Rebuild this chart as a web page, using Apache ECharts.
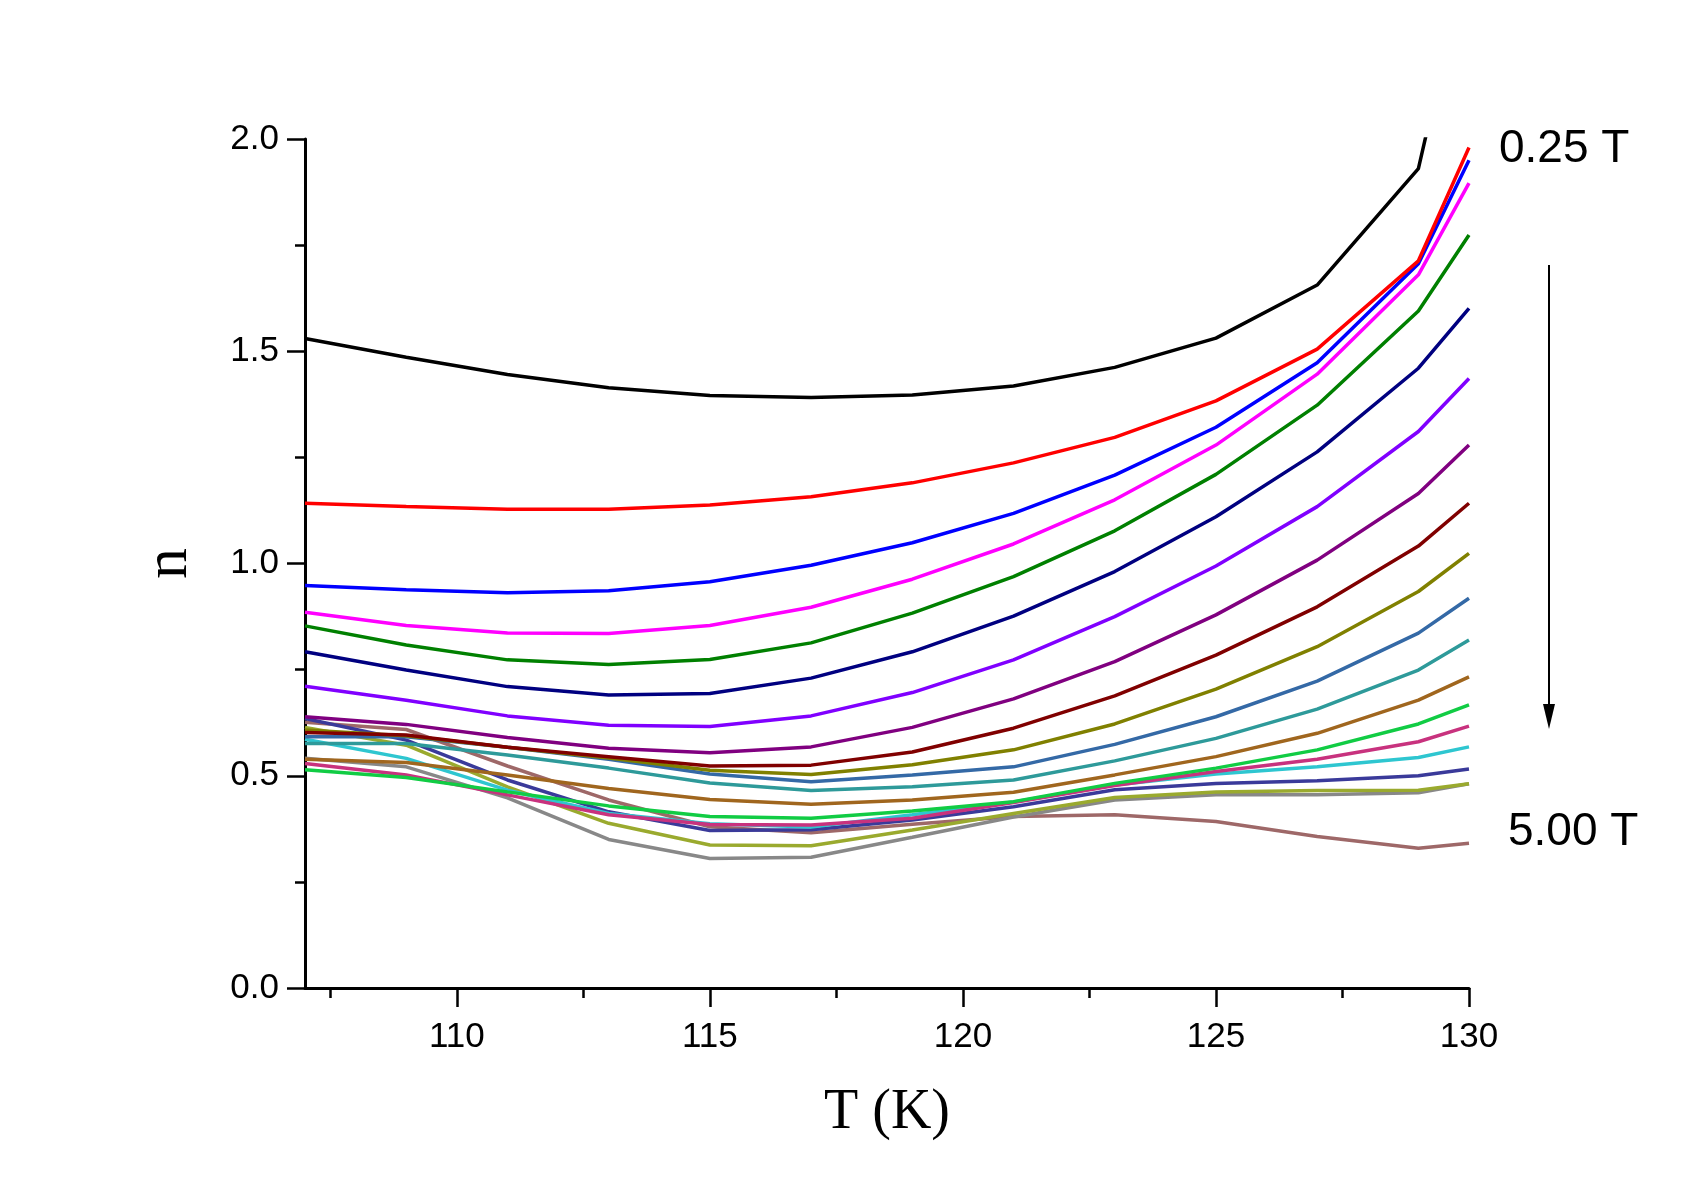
<!DOCTYPE html>
<html>
<head>
<meta charset="utf-8">
<title>n vs T</title>
<script src="https://cdn.jsdelivr.net/npm/echarts@6/dist/echarts.min.js"></script>
<style>
  html, body { margin: 0; padding: 0; background: #fff; }
  #chart { width: 1707px; height: 1186px; }
</style>
</head>
<body>
<div id="chart"></div>
<script>
// temperature points (K)
const temps = [107, 109, 111, 113, 115, 117, 119, 121, 123, 125, 127, 129, 130];

// n values, one array per field
const n025 = [1.530, 1.486, 1.445, 1.414, 1.396, 1.391, 1.397, 1.418, 1.462, 1.531, 1.656, 1.930, 2.45];
const n050 = [1.142, 1.134, 1.128, 1.128, 1.138, 1.157, 1.190, 1.237, 1.297, 1.383, 1.505, 1.713, 1.980];
const n075 = [0.948, 0.938, 0.931, 0.936, 0.957, 0.996, 1.049, 1.118, 1.208, 1.321, 1.473, 1.706, 1.950];
const n100 = [0.885, 0.854, 0.836, 0.835, 0.854, 0.897, 0.963, 1.046, 1.150, 1.279, 1.446, 1.680, 1.896];
const n125 = [0.853, 0.808, 0.773, 0.762, 0.774, 0.813, 0.883, 0.969, 1.077, 1.210, 1.373, 1.595, 1.774];
const n150 = [0.792, 0.749, 0.710, 0.690, 0.694, 0.730, 0.792, 0.876, 0.981, 1.110, 1.263, 1.460, 1.601];
const n175 = [0.711, 0.678, 0.641, 0.619, 0.616, 0.641, 0.696, 0.773, 0.875, 0.994, 1.134, 1.311, 1.436];
const n200 = [0.639, 0.621, 0.590, 0.565, 0.554, 0.568, 0.614, 0.681, 0.769, 0.879, 1.008, 1.165, 1.279];
const n225 = [0.602, 0.596, 0.567, 0.545, 0.523, 0.525, 0.556, 0.612, 0.688, 0.784, 0.898, 1.041, 1.142];
const n250 = [0.608, 0.594, 0.567, 0.542, 0.513, 0.503, 0.526, 0.561, 0.622, 0.704, 0.804, 0.934, 1.024];
const n275 = [0.592, 0.592, 0.567, 0.539, 0.504, 0.486, 0.502, 0.521, 0.574, 0.639, 0.723, 0.836, 0.918];
const n300 = [0.576, 0.576, 0.549, 0.518, 0.483, 0.465, 0.474, 0.490, 0.535, 0.588, 0.657, 0.749, 0.820];
const n325 = [0.539, 0.531, 0.502, 0.470, 0.444, 0.433, 0.443, 0.461, 0.502, 0.545, 0.600, 0.678, 0.733];
const n350 = [0.514, 0.496, 0.462, 0.429, 0.404, 0.400, 0.417, 0.439, 0.482, 0.518, 0.561, 0.622, 0.667];
const n375 = [0.529, 0.502, 0.455, 0.408, 0.385, 0.384, 0.400, 0.437, 0.477, 0.510, 0.539, 0.580, 0.617];
const n400 = [0.586, 0.541, 0.466, 0.411, 0.387, 0.379, 0.408, 0.438, 0.478, 0.504, 0.521, 0.543, 0.568];
const n425 = [0.635, 0.584, 0.490, 0.415, 0.371, 0.373, 0.396, 0.427, 0.467, 0.482, 0.488, 0.500, 0.516];
const n450 = [0.614, 0.572, 0.474, 0.388, 0.337, 0.335, 0.372, 0.411, 0.449, 0.462, 0.465, 0.466, 0.481];
const n475 = [0.541, 0.521, 0.448, 0.350, 0.305, 0.308, 0.355, 0.403, 0.443, 0.455, 0.455, 0.460, 0.481];
const n500 = [0.626, 0.609, 0.523, 0.443, 0.380, 0.366, 0.386, 0.404, 0.408, 0.392, 0.357, 0.329, 0.341];

const fields = ['0.25 T', '0.50 T', '0.75 T', '1.00 T', '1.25 T', '1.50 T', '1.75 T', '2.00 T', '2.25 T', '2.50 T',
                '2.75 T', '3.00 T', '3.25 T', '3.50 T', '3.75 T', '4.00 T', '4.25 T', '4.50 T', '4.75 T', '5.00 T'];
const values = [n025, n050, n075, n100, n125, n150, n175, n200, n225, n250,
                n275, n300, n325, n350, n375, n400, n425, n450, n475, n500];
const colors = ['#000000', '#ff0000', '#0000ff', '#ff00ff', '#008000', '#000080', '#8000ff', '#800080', '#800000', '#808000',
                '#3469a6', '#2e9a9a', '#a0661e', '#11cc44', '#c8327e', '#2ec6d0', '#3a3a9a', '#9aaa2e', '#888888', '#9e6868'];

// axis ticks
const xMajor = [110, 115, 120, 125, 130];
const xMinor = [107.5, 112.5, 117.5, 122.5, 127.5];

const chart = echarts.init(document.getElementById('chart'));

const series = values.map((vals, i) => ({
    name: fields[i],
    type: 'line',
    data: temps.map((t, j) => [t, vals[j]]),
    showSymbol: false,
    clip: true,
    lineStyle: { color: colors[i], width: 3.5 },
    itemStyle: { color: colors[i] },
    z: 20 - i
}));

chart.setOption({
    animation: false,
    backgroundColor: '#fff',
    grid: { left: 305, right: 238, top: 139, bottom: 198 },
    xAxis: [{
        type: 'value',
        position: 'bottom',
        min: 107, max: 130,
        name: 'T (K)',
        nameLocation: 'middle',
        nameGap: 97,
        nameTextStyle: { fontFamily: 'Liberation Serif', fontSize: 56, color: '#000' },
        axisLine: { show: true, lineStyle: { color: '#000', width: 3 } },
        axisTick: { show: true, customValues: xMajor, length: 19, lineStyle: { color: '#000', width: 2.5 } },
        axisLabel: {
            customValues: xMajor,
            margin: 32,
            fontFamily: 'Liberation Sans', fontSize: 35, color: '#000'
        },
        splitLine: { show: false }
    }, {
        type: 'value',
        position: 'bottom',
        min: 107, max: 130,
        axisLine: { show: false },
        axisTick: { show: true, customValues: xMinor, length: 10, lineStyle: { color: '#000', width: 2.5 } },
        axisLabel: { show: false },
        splitLine: { show: false }
    }],
    yAxis: {
        type: 'value',
        min: 0, max: 2, interval: 0.5,
        name: 'n',
        nameLocation: 'middle',
        nameGap: 104,
        nameTextStyle: { fontFamily: 'Liberation Serif', fontSize: 62, color: '#000' },
        axisLine: { show: true, lineStyle: { color: '#000', width: 3 } },
        axisTick: { show: true, length: 18, lineStyle: { color: '#000', width: 2.5 } },
        minorTick: { show: true, splitNumber: 2, length: 10, lineStyle: { color: '#000', width: 2.5 } },
        axisLabel: {
            margin: 26,
            formatter: v => v.toFixed(1),
            fontFamily: 'Liberation Sans', fontSize: 35, color: '#000'
        },
        splitLine: { show: false }
    },
    series: series,
    graphic: [
        { type: 'text', x: 1499, y: 149, style: { text: '0.25 T', fontFamily: 'Liberation Sans', fontSize: 46, fill: '#000', verticalAlign: 'middle' } },
        { type: 'text', x: 1508, y: 832, style: { text: '5.00 T', fontFamily: 'Liberation Sans', fontSize: 46, fill: '#000', verticalAlign: 'middle' } },
        { type: 'line', shape: { x1: 1549, y1: 265, x2: 1549, y2: 708 }, style: { stroke: '#000', lineWidth: 2 } },
        { type: 'polygon', shape: { points: [[1543, 704], [1555, 704], [1549, 729]] }, style: { fill: '#000' } }
    ]
});
</script>
</body>
</html>
